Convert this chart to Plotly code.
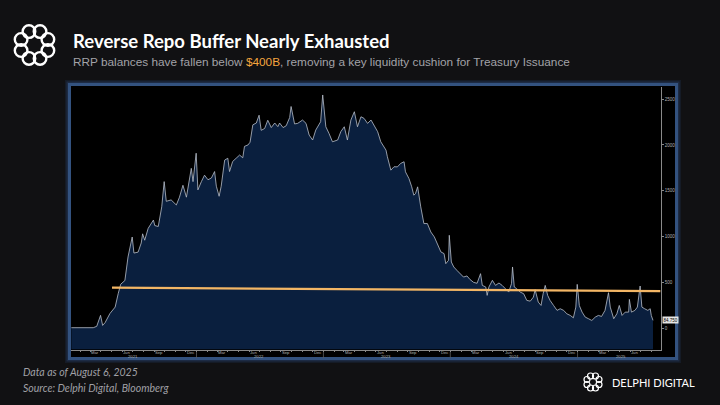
import math
import plotly.graph_objects as go

# Overnight reverse repo (RRP) balances, $B
DATES = [
    "2021-01-06", "2021-02-10", "2021-03-10", "2021-03-20", "2021-03-31", "2021-04-06",
    "2021-04-13", "2021-04-27", "2021-05-12", "2021-05-21", "2021-05-28", "2021-06-09",
    "2021-06-18", "2021-06-30", "2021-07-05", "2021-07-17", "2021-07-26", "2021-07-30",
    "2021-08-05", "2021-08-15", "2021-08-30", "2021-09-03", "2021-09-13", "2021-09-23",
    "2021-09-30", "2021-10-06", "2021-10-20", "2021-11-04", "2021-11-13", "2021-11-23",
    "2021-12-03", "2021-12-17", "2021-12-22", "2021-12-31",
    "2022-01-05", "2022-01-15", "2022-01-24", "2022-02-03", "2022-02-13", "2022-02-22",
    "2022-02-27", "2022-03-07", "2022-03-13", "2022-03-23", "2022-04-01", "2022-04-06",
    "2022-04-15", "2022-04-25", "2022-05-05", "2022-05-14", "2022-05-19", "2022-05-29",
    "2022-06-04", "2022-06-12", "2022-06-22", "2022-06-30", "2022-07-06", "2022-07-16",
    "2022-07-25", "2022-08-04", "2022-08-14", "2022-08-23", "2022-08-28", "2022-09-07",
    "2022-09-16", "2022-09-26", "2022-09-30", "2022-10-10", "2022-10-19", "2022-11-02",
    "2022-11-12", "2022-11-21", "2022-12-01", "2022-12-10", "2022-12-24", "2022-12-30",
    "2023-01-08", "2023-01-17", "2023-01-27", "2023-02-11", "2023-02-20", "2023-03-02",
    "2023-03-11", "2023-03-21", "2023-03-31", "2023-04-09", "2023-04-19", "2023-04-28",
    "2023-05-08", "2023-05-18", "2023-05-27", "2023-06-06", "2023-06-15", "2023-06-25",
    "2023-06-30", "2023-07-04", "2023-07-14", "2023-07-23", "2023-08-02", "2023-08-11",
    "2023-08-21", "2023-08-25", "2023-09-04", "2023-09-12", "2023-09-18", "2023-09-23",
    "2023-09-29", "2023-10-08", "2023-10-17", "2023-10-27", "2023-11-06", "2023-11-16",
    "2023-11-25", "2023-12-05", "2023-12-14", "2023-12-19", "2023-12-27", "2023-12-29",
    "2024-01-04", "2024-01-11", "2024-01-20", "2024-01-30", "2024-02-08", "2024-02-18",
    "2024-02-27", "2024-03-08", "2024-03-18", "2024-03-28", "2024-04-02", "2024-04-12",
    "2024-04-16", "2024-04-21", "2024-05-01", "2024-05-10", "2024-05-20", "2024-05-29",
    "2024-06-08", "2024-06-17", "2024-06-25", "2024-06-28", "2024-07-03", "2024-07-10",
    "2024-07-20", "2024-07-30", "2024-08-08", "2024-08-18", "2024-08-27", "2024-09-01",
    "2024-09-10", "2024-09-18", "2024-09-24", "2024-09-30", "2024-10-07", "2024-10-14",
    "2024-10-24", "2024-11-03", "2024-11-12", "2024-11-22", "2024-12-01", "2024-12-11",
    "2024-12-20", "2024-12-27", "2024-12-31",
    "2025-01-06", "2025-01-14", "2025-01-23", "2025-02-02", "2025-02-11", "2025-02-21",
    "2025-03-02", "2025-03-11", "2025-03-21", "2025-03-31", "2025-04-05", "2025-04-15",
    "2025-04-24", "2025-05-01", "2025-05-09", "2025-05-18", "2025-05-28", "2025-05-30",
    "2025-06-05", "2025-06-15", "2025-06-22", "2025-06-30", "2025-07-05", "2025-07-13",
    "2025-07-22", "2025-07-29", "2025-08-01", "2025-08-06",
]
RRP = [
    5, 4, 5, 20, 140, 30,
    60, 160, 230, 380, 480, 520,
    777, 995, 820, 830, 930, 1030,
    960, 1090, 1180, 1120, 1110, 1325,
    1600, 1385, 1400, 1345, 1430, 1560,
    1430, 1745, 1600, 1910,
    1510, 1600, 1670, 1620, 1640, 1710,
    1550, 1440, 1550, 1835, 1855, 1710,
    1820, 1855, 1890, 1860, 1985, 2000,
    2030, 2220, 2240, 2325, 2160, 2180,
    2270, 2190, 2240, 2200, 2240, 2190,
    2210, 2300, 2420, 2230, 2236, 2272,
    2236, 2108, 2054, 2163, 2254, 2546,
    2199, 2127, 2035, 2054, 2145, 2199,
    2054, 2272, 2363, 2199, 2308, 2290,
    2236, 2272, 2218, 2145, 2035, 1980,
    1944, 1871, 1725, 1762, 1761, 1798,
    1817, 1707, 1634, 1543, 1452, 1470,
    1543, 1324, 1142, 1142, 1050, 996,
    923, 832, 814, 704, 741, 1014,
    722, 668, 631, 590, 558, 570,
    530, 500, 490, 595, 467, 449,
    358, 449, 522, 467, 493, 467,
    431, 394, 486, 668, 449, 431,
    394, 376, 303, 295, 339, 420,
    285, 248, 376, 467, 358, 303,
    248, 194, 212, 194, 157, 139,
    113, 230, 478,
    248, 175, 121, 102, 84, 121,
    139, 128, 194, 387, 230, 103,
    157, 248, 139, 175, 175, 314,
    175, 194, 230, 460, 230, 212,
    194, 212, 139, 85,
]
LAST_LABEL = "84.750"

# hand-drawn $400B marker line (slightly tilted in the original)
THRESHOLD_DATES = ["2021-05-03", "2025-08-27"]
THRESHOLD_VALUES = [442, 405]

Y_RANGE = [-233, 2633]
X_RANGE = ["2021-01-05", "2025-08-29"]
Y_TICKS = [0, 500, 1000, 1500, 2000, 2500]
MONTH_TICKS = []
MONTH_TEXT = []
for yr in range(2021, 2026):
    for m, name in [(3, "Mar"), (6, "Jun"), (9, "Sep"), (12, "Dec")]:
        if yr == 2025 and m > 6:
            continue
        MONTH_TICKS.append(f"{yr}-{m:02d}-15")
        MONTH_TEXT.append(name)
YEARS = ["2021", "2022", "2023", "2024", "2025"]
YEAR_LABEL_POS = ["2021-07-01", "2022-07-01", "2023-07-01", "2024-07-01", "2025-05-05"]

W, H = 720, 405
BG = "#111113"
NAVY = "#0a1f3e"
AXIS_TXT = "#b0b0b0"


def px(x):
    return x / W


def py(y):
    return 1 - y / H


fig = go.Figure()

# baseline at the bottom of the axis so the fill runs to the floor
fig.add_trace(go.Scatter(
    x=DATES, y=[Y_RANGE[0]] * len(DATES),
    mode="lines", line=dict(width=0), hoverinfo="skip", showlegend=False))

fig.add_trace(go.Scatter(
    x=DATES, y=RRP,
    mode="lines", fill="tonexty", fillcolor=NAVY,
    line=dict(color="#b9bfca", width=0.8),
    name="RRP", showlegend=False))

fig.add_trace(go.Scatter(
    x=THRESHOLD_DATES, y=THRESHOLD_VALUES,
    mode="lines", line=dict(color="#f3b665", width=2.2),
    hoverinfo="skip", showlegend=False))

shapes = []
# chart frame with a soft blue glow
for lw, col in [(9, "rgba(45,75,125,0.18)"), (6, "rgba(45,75,125,0.35)"), (3, "#33527f")]:
    shapes.append(dict(type="rect", xref="paper", yref="paper",
                       x0=px(69.5), x1=px(676.5), y0=py(358.5), y1=py(84.5),
                       line=dict(color=col, width=lw),
                       fillcolor="#000000" if lw == 3 else "rgba(0,0,0,0)",
                       layer="below"))

# year separators on the date axis
for yr in YEARS[1:]:
    shapes.append(dict(type="line", xref="x", yref="paper",
                       x0=f"{yr}-01-01", x1=f"{yr}-01-01", y0=py(352), y1=py(358),
                       line=dict(color="#5a5a5a", width=0.8)))


def logo(cx, cy, ring, r, lw):
    # ring of interlocking loops, like the Delphi mark
    out = []
    for k in range(8):
        a = k * math.pi / 4 + math.pi / 8
        x = cx + ring * math.cos(a)
        y = cy + ring * math.sin(a)
        out.append(dict(type="circle", xref="paper", yref="paper",
                        x0=px(x - r), x1=px(x + r), y0=py(y + r), y1=py(y - r),
                        line=dict(color="white", width=lw)))
    return out


shapes += logo(34.5, 45, 14.5, 6.3, 2.4)
shapes += logo(593, 382, 6.5, 3.0, 1.2)

annotations = [
    dict(text="<b>Reverse Repo Buffer Nearly Exhausted</b>", x=px(71), y=py(41),
         xref="paper", yref="paper", xanchor="left", yanchor="middle", showarrow=False,
         font=dict(family="Lato", size=18.5, color="white")),
    dict(text="RRP balances have fallen below <span style='color:#f5a63e'>$400B</span>, "
              "removing a key liquidity cushion for Treasury Issuance",
         x=px(71), y=py(62), xref="paper", yref="paper", xanchor="left", yanchor="middle",
         showarrow=False, font=dict(family="Liberation Sans", size=11.8, color="#a3a3a8")),
    dict(text="<i>Data as of August 6, 2025</i>", x=px(21), y=py(372),
         xref="paper", yref="paper", xanchor="left", yanchor="middle", showarrow=False,
         font=dict(family="Lato", size=10.5, color="#a0a0a6")),
    dict(text="<i>Source: Delphi Digital, Bloomberg</i>", x=px(21), y=py(388),
         xref="paper", yref="paper", xanchor="left", yanchor="middle", showarrow=False,
         font=dict(family="Lato", size=10.5, color="#a0a0a6")),
    dict(text="DELPHI DIGITAL", x=px(610), y=py(382),
         xref="paper", yref="paper", xanchor="left", yanchor="middle", showarrow=False,
         font=dict(family="Lato", size=11, color="white")),
    dict(text=LAST_LABEL, x=px(662), y=RRP[-1], xref="paper", yref="y",
         xanchor="left", yanchor="middle", showarrow=False, bgcolor="#e6e6e6",
         borderpad=0.5, font=dict(family="Liberation Sans", size=4.5, color="black")),
]
# month labels sit right under the axis line, years one row lower
for pos, name in zip(MONTH_TICKS, MONTH_TEXT):
    annotations.append(dict(text=name, x=pos, y=py(352.5), xref="x", yref="paper",
                            xanchor="center", yanchor="middle", showarrow=False,
                            font=dict(family="Liberation Sans", size=4.2, color=AXIS_TXT)))
for yr, pos in zip(YEARS, YEAR_LABEL_POS):
    annotations.append(dict(text=yr, x=pos, y=py(356.5), xref="x", yref="paper",
                            xanchor="center", yanchor="middle", showarrow=False,
                            font=dict(family="Liberation Sans", size=4.2, color=AXIS_TXT)))

fig.update_layout(
    width=W, height=H,
    margin=dict(l=0, r=0, t=0, b=0),
    paper_bgcolor=BG,
    plot_bgcolor="#000000",
    showlegend=False,
    shapes=shapes,
    annotations=annotations,
    xaxis=dict(
        domain=[px(71), px(661)], range=X_RANGE, type="date",
        tickmode="linear", tick0="2021-01-01", dtick="M1", showticklabels=False,
        ticks="outside", ticklen=1.5, tickcolor="#8a8a8a",
        showline=True, linecolor="#8a8a8a", linewidth=0.8,
        showgrid=False, zeroline=False, fixedrange=True,
    ),
    yaxis=dict(
        domain=[py(349.5), py(87)], range=Y_RANGE, side="right",
        tickvals=Y_TICKS,
        tickfont=dict(family="Liberation Sans", size=4.5, color=AXIS_TXT),
        ticks="outside", ticklen=2, tickcolor="#8a8a8a",
        showline=True, linecolor="#8a8a8a", linewidth=0.8,
        showgrid=False, zeroline=False, fixedrange=True,
    ),
)

fig.write_html("out.html", config={"displayModeBar": False},
               post_script="document.body.style.margin='0';")
